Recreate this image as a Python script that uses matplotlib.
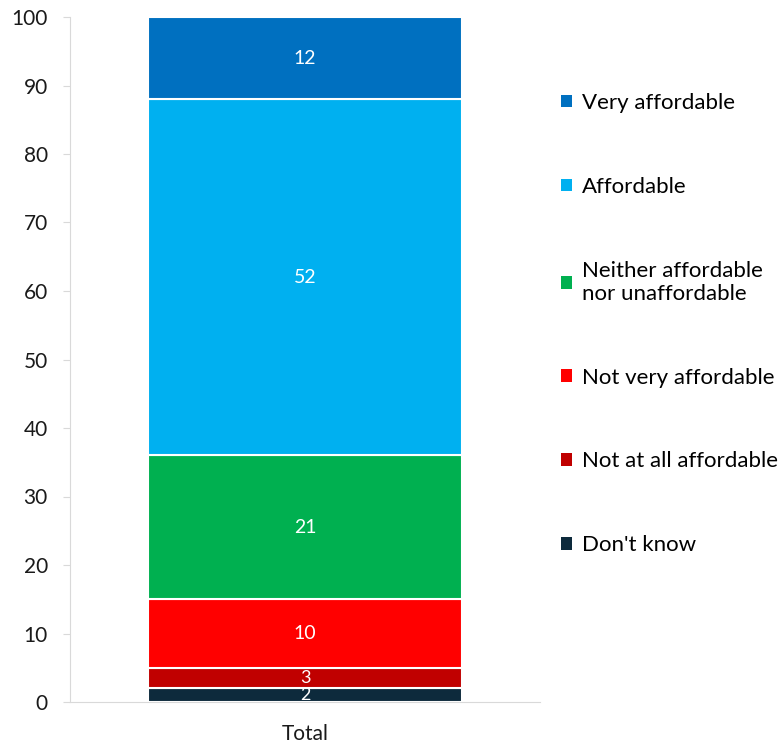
import matplotlib.pyplot as plt
from matplotlib.patches import Patch

categories = ["Total"]
labels = ["Don't know", "Not at all affordable", "Not very affordable",
          "Neither affordable\nnor unaffordable", "Affordable", "Very affordable"]
values = [2, 3, 10, 21, 52, 12]
colors = ["#0d2a3c", "#c00000", "#ff0000", "#00b050", "#00b0f0", "#0070c0"]

plt.rcParams['font.family'] = ['Lato', 'DejaVu Sans']

fig = plt.figure(figsize=(7.79, 7.43), dpi=100)
ax = fig.add_axes([70 / 779, 41 / 743, 470 / 779, 685 / 743])

bottom = 0
for lab, v, c in zip(labels, values, colors):
    ax.bar(categories, [v], bottom=[bottom], width=0.668, color=c,
           edgecolor='white', linewidth=1.5, label=lab)
    ax.text(0, bottom + v / 2, str(v), ha='center', va='center',
            color='white', fontsize=14 if v >= 5 else 13)
    bottom += v

ax.set_xlim(-0.5, 0.5)
ax.set_ylim(0, 100)
ax.set_yticks(range(0, 101, 10))
for s in ['top', 'right']:
    ax.spines[s].set_visible(False)
ax.spines['left'].set_color('#d9d9d9')
ax.spines['bottom'].set_color('#d9d9d9')
ax.tick_params(axis='y', colors='#d9d9d9', labelcolor='#1a1a1a', labelsize=15,
               length=5, pad=11)
ax.tick_params(axis='x', length=0, labelcolor='#1a1a1a', labelsize=15, pad=16)

handles = [Patch(facecolor=c, label=l) for l, c in zip(labels, colors)]
fig.legend(handles[::-1], labels[::-1], loc='upper left',
           bbox_to_anchor=(541 / 779, 1 - 73 / 743), frameon=False,
           fontsize=16, handlelength=0.5, handleheight=0.5, handletextpad=0.45,
           labelspacing=2.87)

plt.savefig('out.png', dpi=100)
